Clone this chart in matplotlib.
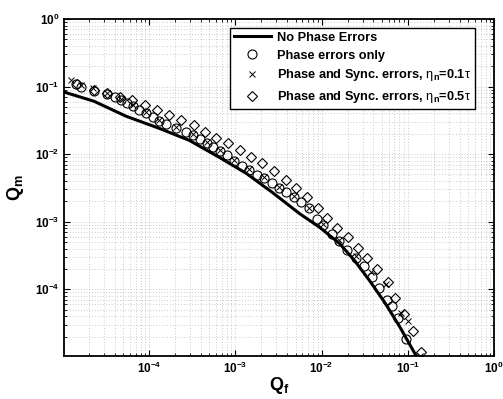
import numpy as np
import matplotlib
matplotlib.use("Agg")
import matplotlib.pyplot as plt
from matplotlib.ticker import FixedLocator, FuncFormatter, LogLocator, NullFormatter

plt.rcParams["font.family"] = ["Liberation Sans", "DejaVu Sans"]
plt.rcParams["mathtext.fontset"] = "custom"
plt.rcParams["mathtext.rm"] = "Liberation Sans"
plt.rcParams["mathtext.bf"] = "Liberation Sans:bold"
plt.rcParams["mathtext.it"] = "Liberation Sans:italic"

# curva teorica sin errores de fase
qf_ideal = [1.0e-5, 2.29e-5, 5.41e-5, 1.31e-4, 2.92e-4, 6.52e-4, 1.34e-3, 2.69e-3,
            5.55e-3, 9.48e-3, 1.62e-2, 2.42e-2, 3.61e-2, 5.40e-2, 8.07e-2, 0.127]
qm_ideal = [0.0840, 0.0607, 0.0364, 0.0241, 0.0160, 8.97e-3, 5.19e-3, 2.71e-3,
            1.32e-3, 8.28e-4, 4.75e-4, 2.65e-4, 1.34e-4, 6.39e-5, 2.79e-5, 1.0e-5]

# solo errores de fase (circulos)
qf_fase = [1.42e-5, 1.62e-5, 2.29e-5, 3.25e-5, 4.03e-5, 4.72e-5, 5.55e-5, 6.52e-5,
           7.65e-5, 9.23e-5, 1.11e-4, 1.31e-4, 1.58e-4, 2.06e-4, 2.69e-4, 3.25e-4,
           3.92e-4, 4.72e-4, 5.55e-4, 6.69e-4, 8.07e-4, 9.73e-4, 1.21e-3, 1.46e-3,
           1.80e-3, 2.17e-3, 2.69e-3, 3.25e-3, 3.92e-3, 4.85e-3, 5.85e-3, 7.06e-3,
           8.75e-3, 1.05e-2, 1.31e-2, 1.58e-2, 1.95e-2, 2.48e-2, 3.08e-2, 3.81e-2,
           4.60e-2, 5.70e-2, 6.52e-2, 7.65e-2, 9.48e-2]
qm_fase = [0.109, 0.098, 0.0855, 0.0771, 0.0697, 0.0628, 0.0567, 0.0512,
           0.0447, 0.0403, 0.0351, 0.0307, 0.0277, 0.0241, 0.0211, 0.0190,
           0.0166, 0.0145, 0.0126, 0.0110, 9.60e-3, 7.82e-3, 6.59e-3, 5.75e-3,
           4.85e-3, 4.38e-3, 3.69e-3, 3.11e-3, 2.71e-3, 2.29e-3, 1.93e-3, 1.57e-3,
           1.11e-3, 8.79e-4, 6.68e-4, 5.26e-4, 3.87e-4, 2.94e-4, 2.24e-4, 1.54e-4,
           1.06e-4, 7.01e-5, 5.71e-5, 3.79e-5, 1.85e-5]

# fase y sincronizacion, eta_n = 0.1 tau (cruces)
qf_sync01 = [1.24e-5, 1.62e-5, 2.23e-5, 3.25e-5, 4.72e-5, 6.52e-5, 9.23e-5, 1.31e-4,
             2.06e-4, 3.25e-4, 4.72e-4, 6.69e-4, 9.73e-4, 1.46e-3, 2.17e-3, 3.25e-3,
             4.85e-3, 7.06e-3, 1.05e-2, 1.58e-2, 2.48e-2, 3.72e-2, 5.54e-2, 8.30e-2,
             0.100, 0.138]
qm_sync01 = [0.124, 0.105, 0.0947, 0.0798, 0.0650, 0.0530, 0.0417, 0.0317,
             0.0250, 0.0197, 0.0150, 0.0114, 8.09e-3, 5.95e-3, 4.53e-3, 3.22e-3,
             2.37e-3, 1.62e-3, 9.40e-4, 5.44e-4, 3.15e-4, 1.82e-4, 1.21e-4, 4.50e-5,
             3.42e-5, 1.03e-5]

# fase y sincronizacion, eta_n = 0.5 tau (rombos)
qf_sync05 = [1.46e-5, 2.29e-5, 3.25e-5, 4.60e-5, 6.34e-5, 8.97e-5, 1.24e-4, 1.71e-4,
             2.36e-4, 3.34e-4, 4.48e-4, 6.01e-4, 8.30e-4, 1.14e-3, 1.53e-3, 2.06e-3,
             2.84e-3, 3.92e-3, 5.12e-3, 6.70e-3, 8.98e-3, 1.17e-2, 1.53e-2, 2.00e-2,
             2.62e-2, 3.34e-2, 4.36e-2, 5.85e-2, 7.06e-2, 8.98e-2, 0.114, 0.142]
qm_sync05 = [0.109, 0.0885, 0.0798, 0.0697, 0.0628, 0.0530, 0.0447, 0.0377,
             0.0317, 0.0267, 0.0211, 0.0171, 0.0145, 0.0114, 8.97e-3, 7.31e-3,
             5.56e-3, 4.08e-3, 3.11e-3, 2.29e-3, 1.62e-3, 1.15e-3, 8.20e-4, 6.03e-4,
             4.14e-4, 2.94e-4, 2.02e-4, 1.30e-4, 7.50e-5, 4.34e-5, 2.43e-5, 1.19e-5]

xticks = [1e-4, 1e-3, 1e-2, 1e-1, 1e0]
yticks = [1e-4, 1e-3, 1e-2, 1e-1, 1e0]


def etiqueta(v, pos):
    return r"$\mathbf{10^{%d}}$" % int(round(np.log10(v)))


fig = plt.figure(figsize=(5.03, 3.99), dpi=100)
ax = fig.add_axes([0.1272, 0.1078, 0.8549, 0.8446])

ax.plot(qf_ideal, qm_ideal, "-", color="black", lw=2.2, label="No Phase Errors")
ax.plot(qf_fase, qm_fase, "o", mfc="none", mec="black", ms=6.5, mew=0.8,
        label="Phase errors only")
ax.plot(qf_sync01, qm_sync01, "x", color="black", ms=4, mew=0.7,
        label=r"Phase and Sync. errors, $\mathrm{\eta}_{\mathbf{n}}$=0.1$\mathrm{\tau}$")
ax.plot(qf_sync05, qm_sync05, "D", mfc="none", mec="black", ms=5.2, mew=0.8,
        label=r"Phase and Sync. errors, $\mathrm{\eta}_{\mathbf{n}}$=0.5$\mathrm{\tau}$")

ax.set_xscale("log")
ax.set_yscale("log")
ax.set_xlim(1.03e-5, 1)
ax.set_ylim(1.03e-5, 1)
ax.xaxis.set_major_locator(FixedLocator(xticks))
ax.yaxis.set_major_locator(FixedLocator(yticks))
ax.xaxis.set_major_formatter(FuncFormatter(etiqueta))
ax.yaxis.set_major_formatter(FuncFormatter(etiqueta))
for eje in (ax.xaxis, ax.yaxis):
    eje.set_minor_locator(LogLocator(base=10, subs=np.arange(2, 10), numticks=20))
    eje.set_minor_formatter(NullFormatter())
ax.tick_params(which="both", direction="in", top=True, right=True, labelsize=8.5)
ax.tick_params(which="major", length=4, width=0.8)
ax.tick_params(which="minor", length=2, width=0.6)
ax.grid(which="both", linestyle=(0, (1, 3)), color="0.62", linewidth=0.5)
for s in ax.spines.values():
    s.set_linewidth(1.3)

ax.set_xlabel(r"$\mathbf{Q}_{\mathbf{f}}$", fontsize=13, labelpad=-1)
ax.set_ylabel(r"$\mathbf{Q}_{\mathbf{m}}$", fontsize=13, labelpad=6)

leg = ax.legend(loc="upper right", bbox_to_anchor=(0.956, 0.973), borderaxespad=0,
                fancybox=False, edgecolor="black", framealpha=1,
                prop={"weight": "bold", "size": 9.2}, handlelength=2.9,
                borderpad=0.3, labelspacing=0.45, handletextpad=0.5)
leg.get_frame().set_linewidth(1.0)

fig.savefig("out.png", dpi=100)
